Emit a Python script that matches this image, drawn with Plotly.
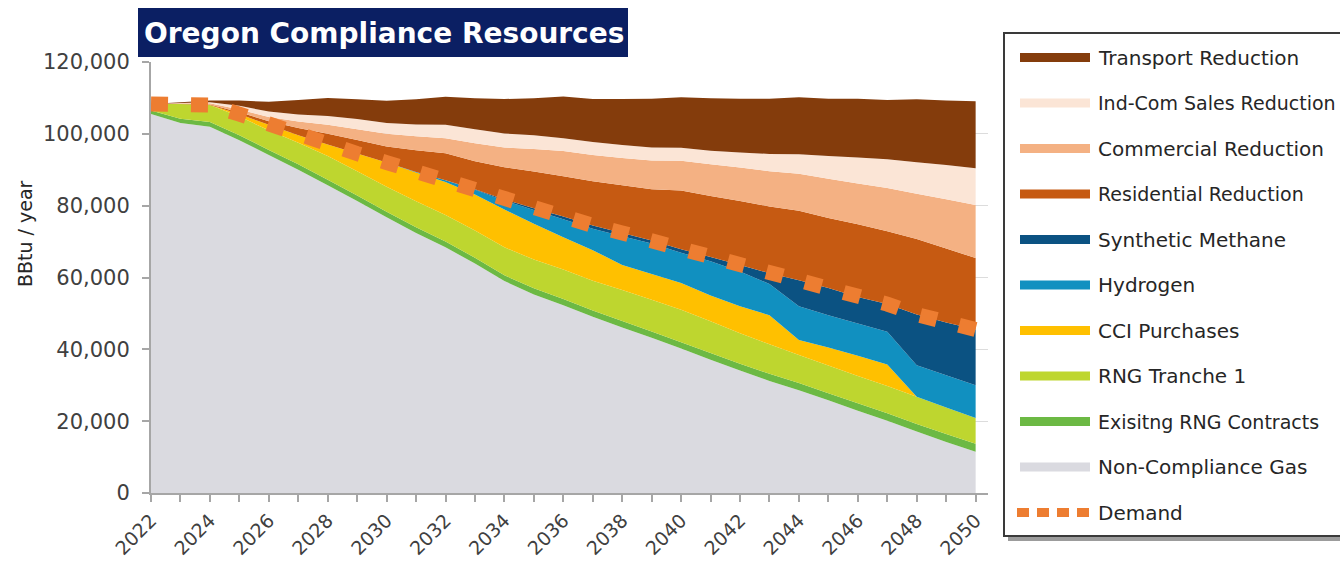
import plotly.graph_objects as go

years = list(range(2022, 2051))

non_compliance_gas = [105500, 103000, 102000, 98200, 94100, 90000, 85700, 81300, 76800, 72400,
                      68400, 63900, 59000, 55300, 52300, 49100, 46100, 43200, 40200, 37100,
                      34100, 31200, 28600, 25800, 22900, 20100, 17100, 14200, 11500]
existing_rng = [1000, 1200, 1300, 1400, 1400, 1500, 1500, 1500, 1500, 1600,
                1600, 1600, 1600, 1700, 1700, 1700, 1800, 1800, 1800, 1900,
                1900, 2000, 2000, 2000, 2100, 2100, 2100, 2200, 2200]
rng_tranche_1 = [1800, 4100, 4700, 5200, 5500, 6000, 6600, 6800, 7000, 7200,
                 7400, 7600, 7800, 8000, 8200, 8300, 8600, 8800, 9000, 8800,
                 8500, 8200, 7800, 7700, 7600, 7600, 7600, 7400, 7200]
cci_purchases = [0, 0, 0, 700, 1500, 2100, 3200, 4900, 6700, 8000,
                 9200, 10000, 10500, 10000, 9000, 8500, 7000, 7200, 7500, 7200,
                 7500, 8100, 4200, 5000, 5600, 6000, 0, 0, 0]
hydrogen = [0, 0, 0, 0, 0, 0, 0, 0, 0, 200,
            500, 1300, 2500, 3800, 5000, 6000, 8000, 8500, 8400, 9500,
            9700, 8700, 9400, 9000, 9000, 9100, 8800, 9000, 9100]
synthetic_methane = [0, 0, 0, 0, 0, 0, 0, 0, 0, 0,
                     0, 200, 300, 500, 800, 900, 900, 800, 1000, 1200,
                     1800, 3000, 7200, 7600, 7400, 7700, 14100, 14700, 15500]
residential_reduction = [0, 100, 200, 500, 1000, 2000, 3000, 3800, 4500, 6000,
                         7500, 7800, 9000, 10200, 11200, 12300, 13300, 14300, 16300, 17000,
                         17800, 18600, 19400, 19500, 20200, 20300, 21000, 20600, 19900]
commercial_reduction = [0, 100, 300, 800, 1200, 1800, 2500, 3000, 3500, 3900,
                        4200, 5000, 5500, 6300, 7000, 7300, 7600, 8000, 8300, 8800,
                        9300, 9800, 10300, 10900, 11400, 12000, 12600, 13700, 14800]
ind_com_sales_reduction = [0, 100, 300, 1000, 1500, 2000, 2500, 2800, 3000, 3300,
                           3700, 3900, 3900, 3800, 3600, 3600, 3600, 3600, 3600, 3800,
                           4200, 4800, 5400, 6300, 7200, 8000, 8800, 9500, 10200]
transport_reduction = [0, 200, 500, 1500, 2700, 4000, 5000, 5500, 6200, 7000,
                       7800, 8600, 9600, 10300, 11600, 12000, 12800, 13600, 14100, 14600,
                       15000, 15400, 15900, 16000, 16400, 16500, 17500, 18000, 18700]
demand = [108300, 108300, 108000, 105500, 102500, 99600, 97000, 94500, 92000, 89400,
          87100, 84600, 81700, 79300, 77000, 74500, 72400, 70300, 67900, 65700,
          63500, 61200, 59200, 57100, 54600, 52600, 49700, 47500, 45500]

y_ticks = [0, 20000, 40000, 60000, 80000, 100000, 120000]

series = [
    ("Non-Compliance Gas", non_compliance_gas, "#DADAE0"),
    ("Exisitng RNG Contracts", existing_rng, "#6CB944"),
    ("RNG Tranche 1", rng_tranche_1, "#BED62F"),
    ("CCI Purchases", cci_purchases, "#FFC000"),
    ("Hydrogen", hydrogen, "#1190C0"),
    ("Synthetic Methane", synthetic_methane, "#0B5282"),
    ("Residential Reduction", residential_reduction, "#C65A12"),
    ("Commercial Reduction", commercial_reduction, "#F4B183"),
    ("Ind-Com Sales Reduction", ind_com_sales_reduction, "#FBE5D6"),
    ("Transport Reduction", transport_reduction, "#843C0C"),
]
demand_color = "#ED7D31"
FONT = "DejaVu Sans"
TXT = "#404040"

fig = go.Figure()
for name, vals, col in series:
    fig.add_trace(go.Scatter(x=years, y=vals, name=name, stackgroup="one", mode="none",
                             fillcolor=col, showlegend=False, hoverinfo="x+y+name"))
fig.add_trace(go.Scatter(x=years, y=demand, name="Demand", mode="lines",
                         line=dict(color=demand_color, width=15, dash="17px,23px"),
                         showlegend=False))

# pixel helpers for decorations (plot area 151..988 x 62..493)
L, R, T, B = 151, 988, 62, 493
def fx(px):
    return (px - L) / (R - L)
def fy(py):
    return (B - py) / (B - T)

shapes = []
annotations = []

# Title box
shapes.append(dict(type="rect", xref="paper", yref="paper", x0=fx(138), x1=fx(628),
                   y0=fy(57), y1=fy(8), fillcolor="#0B1F63", line=dict(width=0), layer="above"))
annotations.append(dict(text="<b>Oregon Compliance Resources</b>", xref="paper", yref="paper",
                        x=fx(384), y=fy(33), xanchor="center", yanchor="middle", showarrow=False,
                        font=dict(family=FONT, size=28, color="white")))

# Y axis title
annotations.append(dict(text="BBtu / year", xref="paper", yref="paper", x=fx(25), y=fy(234),
                        xanchor="center", yanchor="middle", textangle=-90, showarrow=False,
                        font=dict(family=FONT, size=19, color="#262626")))

# Legend box
shapes.append(dict(type="rect", xref="paper", yref="paper", x0=fx(1008), x1=fx(1352),
                   y0=fy(541), y1=fy(38), fillcolor="#9C9C9C", line=dict(width=0), layer="above"))
shapes.append(dict(type="rect", xref="paper", yref="paper", x0=fx(1004), x1=fx(1348),
                   y0=fy(536), y1=fy(33), fillcolor="white", line=dict(color="#3A3A3A", width=2),
                   layer="above"))
legend_items = list(reversed(series))
for i, (name, vals, col) in enumerate(legend_items):
    yc = 57.5 + 45.5 * i
    shapes.append(dict(type="line", xref="paper", yref="paper", x0=fx(1020), x1=fx(1090),
                       y0=fy(yc), y1=fy(yc), line=dict(color=col, width=9), layer="above"))
    fsize = 19 if len(name) > 20 else 20
    annotations.append(dict(text=name, xref="paper", yref="paper", x=fx(1096), y=fy(yc),
                            xanchor="left", yanchor="middle", showarrow=False,
                            font=dict(family=FONT, size=fsize, color="#262626")))
yc = 57.5 + 45.5 * len(legend_items)
shapes.append(dict(type="line", xref="paper", yref="paper", x0=fx(1017), x1=fx(1091),
                   y0=fy(yc), y1=fy(yc), line=dict(color=demand_color, width=9, dash="12px,8px"),
                   layer="above"))
annotations.append(dict(text="Demand", xref="paper", yref="paper", x=fx(1096), y=fy(yc),
                        xanchor="left", yanchor="middle", showarrow=False,
                        font=dict(family=FONT, size=20, color="#262626")))

fig.update_layout(
    width=1340, height=564,
    margin=dict(l=L, r=1340 - R, t=T, b=564 - B, pad=0, autoexpand=False),
    paper_bgcolor="white", plot_bgcolor="white",
    font=dict(family=FONT, color=TXT),
    shapes=shapes, annotations=annotations,
    showlegend=False,
)
fig.update_xaxes(range=[2022, 2050.42], tickmode="linear", tick0=2022, dtick=2,
                 tickangle=-45, ticks="outside", ticklen=7, tickcolor="#A6A6A6", tickwidth=1.5,
                 showline=True, linecolor="#A6A6A6", linewidth=2, showgrid=False, zeroline=False,
                 automargin=False,
                 tickfont=dict(family=FONT, size=19, color=TXT),
                 minor=dict(dtick=1, tick0=2022, ticks="outside", ticklen=7, tickcolor="#A6A6A6",
                            tickwidth=1.5, showgrid=False))
fig.update_yaxes(range=[0, 120000], tickmode="array", tickvals=y_ticks, tickformat=",",
                 ticks="outside", ticklen=7, tickcolor="#A6A6A6", tickwidth=1.5,
                 showline=True, linecolor="#A6A6A6", linewidth=2, showgrid=True,
                 gridcolor="#DCDCDC", gridwidth=1, zeroline=False, ticklabelstandoff=8,
                 automargin=False,
                 tickfont=dict(family=FONT, size=21, color=TXT))

fig.write_html("out.html", config={"displayModeBar": False},
               post_script="document.body.style.margin='0';document.body.style.overflow='hidden';")
